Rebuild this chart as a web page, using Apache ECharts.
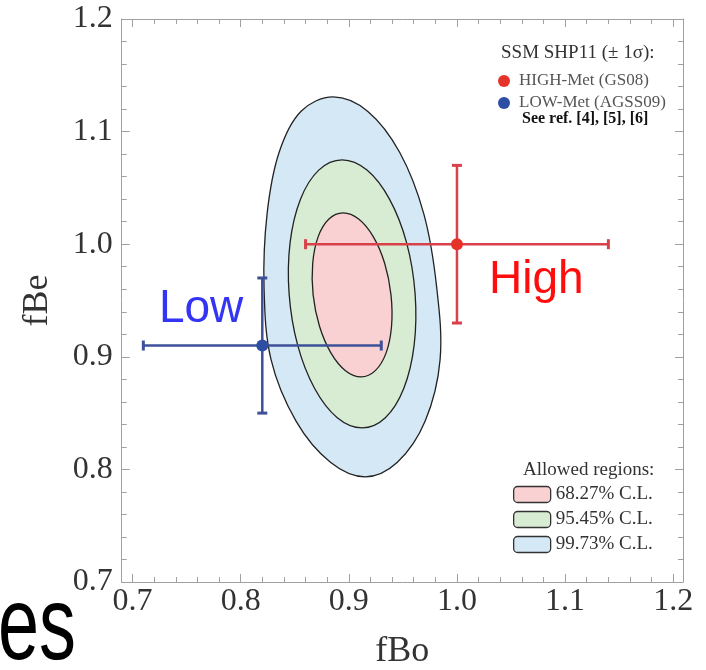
<!DOCTYPE html>
<html><head><meta charset="utf-8">
<script src="https://cdn.jsdelivr.net/npm/echarts@6/dist/echarts.min.js"></script>
<style>html,body{margin:0;padding:0;background:#fff}#c{width:706px;height:670px}</style>
</head><body><div id="c"></div>
<script>
const xMajorTicks = [0.7, 0.8, 0.9, 1.0, 1.1, 1.2];
const xMinorTicks = [0.72,0.74,0.76,0.78,0.82,0.84,0.86,0.88,0.92,0.94,0.96,0.98,1.02,1.04,1.06,1.08,1.12,1.14,1.16,1.18];
const yMajorTicks = [0.7, 0.8, 0.9, 1.0, 1.1, 1.2];
const yMinorTicks = [0.72,0.74,0.76,0.78,0.82,0.84,0.86,0.88,0.92,0.94,0.96,0.98,1.02,1.04,1.06,1.08,1.12,1.14,1.16,1.18];

const pointNames = ['HIGH-Met (GS08)', 'LOW-Met (AGSS09)'];
const pointLabels = ['High', 'Low'];
const highPoint = [1.00, 1.00];
const highErrX = [0.86, 1.14];
const highErrY = [0.93, 1.07];
const lowPoint = [0.82, 0.91];
const lowErrX = [0.71, 0.93];
const lowErrY = [0.85, 0.97];

const regionNames = ['68.27% C.L.', '95.45% C.L.', '99.73% C.L.'];
const contour68 = [[0.939,0.955],[0.9332,0.9829],[0.9227,1.0065],[0.9091,1.0223],[0.8947,1.0278],[0.8816,1.0223],[0.8716,1.0065],[0.8666,0.9829],[0.8670,0.955],[0.8729,0.9271],[0.8834,0.9035],[0.8969,0.8877],[0.9114,0.8822],[0.9245,0.8877],[0.9345,0.9035],[0.9395,0.9271]];
const contour95 = [[0.9613,0.9559],[0.9534,1.0014],[0.9376,1.04],[0.9168,1.0658],[0.8938,1.0749],[0.8722,1.0658],[0.8553,1.04],[0.8457,1.0014],[0.8448,0.9559],[0.8527,0.9103],[0.8684,0.8718],[0.8893,0.8459],[0.9123,0.8369],[0.9338,0.8459],[0.9508,0.8718],[0.9604,0.9103]];
const contour99 = [[0.9812,0.9621],[0.9694,1.0267],[0.9471,1.0814],[0.9176,1.1179],[0.8855,1.1308],[0.8556,1.1179],[0.8355,1.0814],[0.8244,1.0267],[0.8216,0.9621],[0.8281,0.8975],[0.8512,0.8429],[0.883,0.8063],[0.9151,0.7934],[0.9449,0.8063],[0.9706,0.8429],[0.9844,0.8975]];

const SERIF = 'Liberation Serif';
const SANS = 'Liberation Sans';
const frameColor = '#a0a0a0';

function contourSeries(name, pts, fill) {
  return {
    type: 'custom', name: name, data: pts, clip: false, silent: true,
    itemStyle: { color: fill },
    encode: { x: 0, y: 1 },
    renderItem: function (params, api) {
      if (params.dataIndex !== 0) return null;
      const px = pts.map(p => api.coord(p));
      return { type: 'polygon', shape: { points: px, smooth: 0.35 },
        style: { fill: fill, stroke: '#222', lineWidth: 1.3 } };
    }
  };
}
function errSeries(name, pt, ex, ey, color) {
  return {
    type: 'custom', name: name, silent: true, clip: false,
    dimensions: ['x', 'y', 'x0', 'x1', 'y0', 'y1'],
    encode: { x: 0, y: 1 },
    data: [[pt[0], pt[1], ex[0], ex[1], ey[0], ey[1]]],
    renderItem: function (params, api) {
      const x = api.value(0), y = api.value(1);
      const pL = api.coord([api.value(2), y]), pR = api.coord([api.value(3), y]);
      const pB = api.coord([x, api.value(4)]), pT = api.coord([x, api.value(5)]);
      const c = 5;
      const st = { stroke: color, lineWidth: 2.5 };
      const cs = { stroke: color, lineWidth: 3 };
      return { type: 'group', children: [
        { type: 'line', shape: { x1: pL[0], y1: pL[1], x2: pR[0], y2: pR[1] }, style: st },
        { type: 'line', shape: { x1: pB[0], y1: pB[1], x2: pT[0], y2: pT[1] }, style: st },
        { type: 'line', shape: { x1: pL[0], y1: pL[1] - c, x2: pL[0], y2: pL[1] + c }, style: cs },
        { type: 'line', shape: { x1: pR[0], y1: pR[1] - c, x2: pR[0], y2: pR[1] + c }, style: cs },
        { type: 'line', shape: { x1: pB[0] - c, y1: pB[1], x2: pB[0] + c, y2: pB[1] }, style: cs },
        { type: 'line', shape: { x1: pT[0] - c, y1: pT[1], x2: pT[0] + c, y2: pT[1] }, style: cs }
      ] };
    }
  };
}
function xAx(pos, ticks, len, showLine, labels, extra) {
  return Object.assign({
    type: 'value', position: pos, min: 0.69, max: 1.209,
    axisLine: { show: showLine, onZero: false, lineStyle: { color: frameColor, width: 1 } },
    axisTick: { show: true, inside: true, length: len, customValues: ticks, lineStyle: { color: frameColor, width: 1 } },
    axisLabel: labels ? { show: true, customValues: ticks, formatter: v => v.toFixed(1), fontFamily: SERIF, fontSize: 32, color: '#333', margin: 4 } : { show: false },
    splitLine: { show: false }
  }, extra || {});
}
function yAx(pos, ticks, len, showLine, labels, extra) {
  return Object.assign({
    type: 'value', position: pos, min: 0.7, max: 1.2,
    axisLine: { show: showLine, onZero: false, lineStyle: { color: frameColor, width: 1 } },
    axisTick: { show: true, inside: true, length: len, customValues: ticks, lineStyle: { color: frameColor, width: 1 } },
    axisLabel: labels ? { show: true, customValues: ticks, formatter: v => v.toFixed(1), fontFamily: SERIF, fontSize: 32, color: '#333', margin: 9 } : { show: false },
    splitLine: { show: false }
  }, extra || {});
}

const chart = echarts.init(document.getElementById('c'), null, { renderer: 'canvas' });
chart.setOption({
  animation: false,
  backgroundColor: '#fff',
  grid: { left: 121.7, right: 23, top: 19, bottom: 88, outerBoundsMode: 'none' },
  xAxis: [
    xAx('bottom', xMajorTicks, 8, true, true, { name: 'fBo', nameLocation: 'middle', nameGap: 52, nameTextStyle: { fontFamily: SERIF, fontSize: 36, color: '#333' } }),
    xAx('bottom', xMinorTicks, 5, false, false),
    xAx('top', xMajorTicks, 8, true, false),
    xAx('top', xMinorTicks, 5, false, false)
  ],
  yAxis: [
    yAx('left', yMajorTicks, 8, true, true, { name: 'fBe', nameLocation: 'middle', nameGap: 66, nameTextStyle: { fontFamily: SERIF, fontSize: 36, color: '#333' } }),
    yAx('left', yMinorTicks, 5, false, false),
    yAx('right', yMajorTicks, 8, true, false),
    yAx('right', yMinorTicks, 5, false, false)
  ],
  title: [
    { text: 'SSM SHP11 (± 1σ):', left: 501, top: 44, padding: 0, textStyle: { fontFamily: SERIF, fontSize: 19, fontWeight: 'normal', color: '#333' } },
    { text: 'See ref. [4], [5], [6]', left: 522, top: 111, padding: 0, textStyle: { fontFamily: SERIF, fontSize: 16, fontWeight: 'bold', color: '#111' } },
    { text: 'Allowed regions:', left: 523, top: 461, padding: 0, textStyle: { fontFamily: SERIF, fontSize: 19, fontWeight: 'normal', color: '#333' } }
  ],
  legend: [
    { data: pointNames, orient: 'vertical', left: 498, top: 72, padding: 0, itemWidth: 20, itemHeight: 12, itemGap: 4, icon: 'circle', selectedMode: false,
      textStyle: { fontFamily: SERIF, fontSize: 17, color: '#555', lineHeight: 18 } },
    { data: regionNames, orient: 'vertical', left: 513, top: 485, padding: 0, itemWidth: 37, itemHeight: 16, itemGap: 6, icon: 'roundRect', selectedMode: false,
      itemStyle: { borderColor: '#333', borderWidth: 1.3 },
      textStyle: { fontFamily: SERIF, fontSize: 19, color: '#333' } }
  ],
  graphic: [
    { type: 'text', x: -2, y: 630, scaleX: 0.71, silent: true,
      style: { text: 'es', fontFamily: SANS, fontSize: 104, fill: '#000', verticalAlign: 'middle' } }
  ],
  series: [
    contourSeries(regionNames[2], contour99, '#d5e8f6'),
    contourSeries(regionNames[1], contour95, '#d8ebd3'),
    contourSeries(regionNames[0], contour68, '#f9d1d3'),
    errSeries('high-err', highPoint, highErrX, highErrY, '#d8404a'),
    errSeries('low-err', lowPoint, lowErrX, lowErrY, '#3d5099'),
    { type: 'scatter', name: pointNames[0], data: [highPoint], symbolSize: 12, itemStyle: { color: '#e5332a', opacity: 1 },
      label: { show: true, formatter: pointLabels[0], position: 'inside', offset: [32, 36], align: 'left', verticalAlign: 'middle',
        fontFamily: SANS, fontSize: 46, color: '#ff0d0d' } },
    { type: 'scatter', name: pointNames[1], data: [lowPoint], symbolSize: 12, itemStyle: { color: '#2e4ea3', opacity: 1 },
      label: { show: true, formatter: pointLabels[1], position: 'inside', offset: [-19, -36], align: 'right', verticalAlign: 'middle',
        fontFamily: SANS, fontSize: 46, color: '#3434f4' } }
  ]
});
</script></body></html>
